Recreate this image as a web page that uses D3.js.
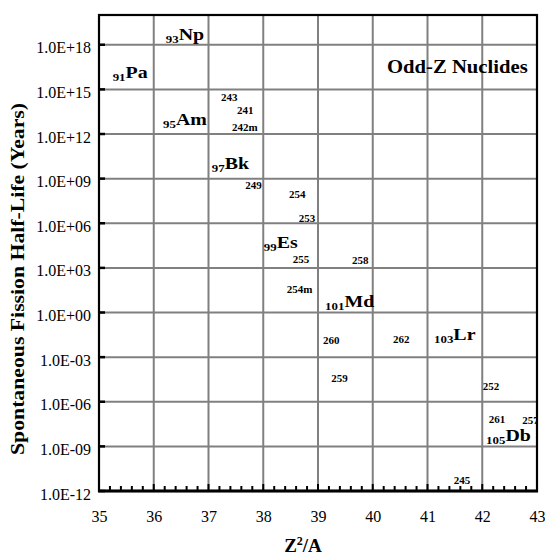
<!DOCTYPE html>
<html><head><meta charset="utf-8">
<script src="https://cdn.jsdelivr.net/npm/d3@7"></script>
<style>
body{margin:0;background:#fff;}
text{font-family:"Liberation Serif","Times New Roman",serif;}
</style></head>
<body><svg id="c" width="545" height="555"></svg>
<script>
// ---- data ----
const xTicks = [35,36,37,38,39,40,41,42,43];
const yTickExps = [-12,-9,-6,-3,0,3,6,9,12,15,18];
const yTickLabels = ["1.0E-12","1.0E-09","1.0E-06","1.0E-03","1.0E+00","1.0E+03","1.0E+06","1.0E+09","1.0E+12","1.0E+15","1.0E+18"];

// element labels (atomic number, symbol, Z^2/A, half-life in years)
const elemZ   = [91, 93, 95, 97, 99, 101, 103, 105];
const elemSym = ["Pa","Np","Am","Bk","Es","Md","Lr","Db"];
const elemX   = [35.25, 36.22, 36.17, 37.06, 38.01, 39.13, 41.12, 42.07];
const elemY   = [5.8e15, 2.1e18, 4e12, 4.5e9, 2.2e4, 2.3, 1.4e-2, 2.3e-9];

// isotope mass labels
const isoName = ["243","241","242m","249","254","253","255","258","254m","260","262","259","252","261","257","245"];
const isoX    = [37.23, 37.52, 37.43, 37.67, 38.47, 38.65, 38.54, 39.62, 38.43, 39.09, 40.37, 39.24, 42.01, 42.12, 42.73, 41.48];
const isoY    = [1.7e14, 2.2e13, 1.6e12, 2e8, 5e7, 1.2e6, 2.1e3, 1.8e3, 20, 7.6e-3, 8.9e-3, 2.1e-5, 6.2e-6, 3.7e-8, 3.4e-8, 3e-12];

const noteText = "Odd-Z Nuclides";
const noteX = 40.26, noteY = 1.3e16;

// ---- layout ----
const W = 545, H = 555;
const m = {left:99, top:15, right:8, bottom:64};
const svg = d3.select("#c");
const x = d3.scaleLinear().domain([35,43]).range([m.left, W-m.right]);
const y = d3.scaleLog().domain([1e-12,1e20]).range([H-m.bottom, m.top]);

svg.append("defs").append("clipPath").attr("id","clip")
  .append("rect").attr("x",m.left).attr("y",m.top)
  .attr("width",W-m.left-m.right).attr("height",H-m.top-m.bottom);

// grid
const grid = svg.append("g");
grid.selectAll("line.v").data(xTicks.slice(1,-1)).join("line")
  .attr("x1",d=>x(d)).attr("x2",d=>x(d)).attr("y1",m.top).attr("y2",H-m.bottom)
  .attr("stroke","#808080").attr("stroke-width",2);
grid.selectAll("line.h").data(yTickExps.slice(1)).join("line")
  .attr("y1",d=>y(Math.pow(10,d))).attr("y2",d=>y(Math.pow(10,d)))
  .attr("x1",m.left).attr("x2",W-m.right)
  .attr("stroke","#808080").attr("stroke-width",2);

// labels
const SX = 1.17;
const lab = svg.append("g").attr("clip-path","url(#clip)").attr("font-weight","bold").attr("fill","#000");
const el = lab.selectAll("text.el").data(elemSym).join("text")
  .attr("transform",(d,i)=>`translate(${x(elemX[i])},${y(elemY[i])}) scale(${SX},1)`);
el.append("tspan").attr("font-size",11).attr("dy",3).text((d,i)=>elemZ[i]);
el.append("tspan").attr("font-size",17).attr("dy",-3).text(d=>d);

lab.selectAll("text.iso").data(isoName).join("text")
  .attr("transform",(d,i)=>`translate(${x(isoX[i])},${y(isoY[i])}) scale(1.1,1)`)
  .attr("font-size",10).text(d=>d);

lab.append("text").attr("transform",`translate(${x(noteX)},${y(noteY)}) scale(1.15,1)`)
  .attr("font-size",18).text(noteText);

// axes
const xAxis = d3.axisBottom(x).tickValues(xTicks).tickSize(0).tickPadding(20);
const gx = svg.append("g").attr("transform",`translate(0,${H-m.bottom})`).call(xAxis);
gx.select(".domain").remove();
gx.selectAll("text").attr("font-size",16).attr("font-family","Liberation Serif").attr("fill","#000");

const yAxis = d3.axisLeft(y).tickValues(yTickExps.map(e=>Math.pow(10,e)))
  .tickFormat((d,i)=>yTickLabels[i]).tickSize(0).tickPadding(8);
const gy = svg.append("g").attr("transform",`translate(${m.left},0)`).call(yAxis);
gy.select(".domain").remove();
gy.selectAll("text").attr("font-size",16).attr("font-family","Liberation Serif").attr("fill","#000").attr("dy","0.5em");

// minor ticks on x axis (inside)
const minor = d3.range(35,43.001,0.2);
svg.append("g").selectAll("line").data(minor).join("line")
  .attr("x1",d=>x(d)).attr("x2",d=>x(d))
  .attr("y1",H-m.bottom).attr("y2",d=>H-m.bottom-(Math.abs(d-Math.round(d))<1e-6?7:5))
  .attr("stroke","#000").attr("stroke-width",2);
// y major ticks (inside)
svg.append("g").selectAll("line").data(yTickExps).join("line")
  .attr("x1",m.left).attr("x2",m.left+6)
  .attr("y1",d=>y(Math.pow(10,d))).attr("y2",d=>y(Math.pow(10,d)))
  .attr("stroke","#000").attr("stroke-width",2.5);

// frame
svg.append("rect").attr("x",m.left).attr("y",m.top)
  .attr("width",W-m.left-m.right).attr("height",H-m.top-m.bottom)
  .attr("fill","none").attr("stroke","#000").attr("stroke-width",2.2);
svg.append("line").attr("x1",m.left-1).attr("x2",W-m.right+1)
  .attr("y1",H-m.bottom).attr("y2",H-m.bottom).attr("stroke","#000").attr("stroke-width",3);

// axis titles
svg.append("text").attr("x",303).attr("y",552).attr("text-anchor","middle")
  .attr("font-weight","bold").attr("font-size",19)
  .html('Z<tspan font-size="12" dy="-7">2</tspan><tspan dy="7">/A</tspan>');
svg.append("text").attr("transform","translate(24,279) rotate(-90)")
  .attr("text-anchor","middle").attr("font-weight","bold").attr("font-size",19.5)
  .attr("textLength",352).attr("lengthAdjust","spacingAndGlyphs")
  .text("Spontaneous Fission Half-Life (Years)");
</script></body></html>
